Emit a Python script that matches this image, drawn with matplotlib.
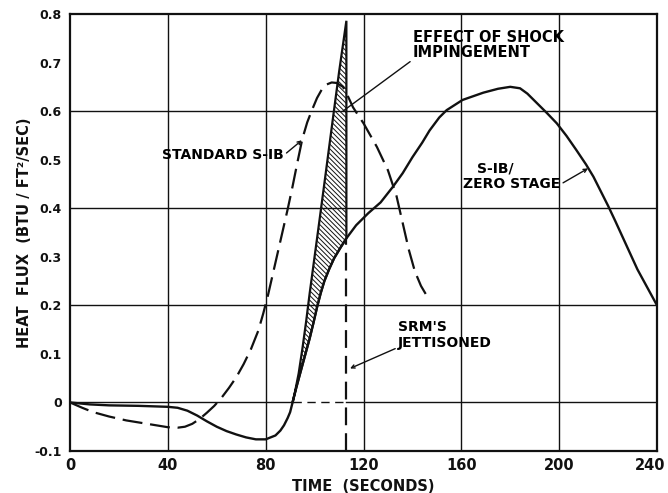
import numpy as np
import matplotlib
matplotlib.use("Agg")
import matplotlib.pyplot as plt
from matplotlib.transforms import ScaledTranslation

# S-IB / zero stage heat flux (solid)
zero_t = [0, 8, 16, 28, 40, 44, 48, 52, 56, 60, 64, 68, 72, 76, 80, 84, 86, 87.5, 89, 90, 91,
          92.5, 94, 96, 98, 99.5, 101, 102.5, 104, 106, 108, 110.5, 113, 117, 122, 127, 132,
          136, 140, 144, 147, 151, 154, 160.5, 169, 175, 180, 184, 187, 191, 195, 199, 203,
          207, 211, 214, 217, 220, 223, 226, 229, 232, 236, 240]
zero_q = [0, -0.004, -0.006, -0.007, -0.009, -0.011, -0.017, -0.027, -0.039, -0.05, -0.059,
          -0.066, -0.072, -0.076, -0.076, -0.068, -0.058, -0.047, -0.032, -0.02, 0,
          0.03, 0.058, 0.095, 0.132, 0.163, 0.196, 0.225, 0.25, 0.275, 0.297, 0.318, 0.338,
          0.365, 0.39, 0.412, 0.444, 0.472, 0.505, 0.535, 0.56, 0.587, 0.602, 0.623, 0.638,
          0.646, 0.65, 0.647, 0.636, 0.616, 0.596, 0.575, 0.549, 0.52, 0.49, 0.465, 0.435,
          0.405, 0.373, 0.34, 0.307, 0.274, 0.237, 0.2]

# standard S-IB heat flux (dashed)
std_t = [0, 5, 9.5, 16, 23, 31.5, 40, 44, 47, 50, 53, 56, 59, 62, 65, 68, 71, 74, 77, 79, 81,
         83, 85, 87, 89, 91, 93, 95, 97, 99, 101, 103, 105, 107, 109, 111.6, 113.5, 115.7, 118,
         120, 125.5, 130, 133.5, 136, 138.5, 141, 143.5, 147]
std_q = [0, -0.011, -0.02, -0.029, -0.037, -0.044, -0.051, -0.052, -0.05, -0.044, -0.034,
         -0.021, -0.007, 0.01, 0.03, 0.052, 0.079, 0.11, 0.148, 0.183, 0.222, 0.266, 0.31,
         0.354, 0.398, 0.445, 0.495, 0.543, 0.577, 0.603, 0.627, 0.645, 0.655, 0.659, 0.658,
         0.65, 0.632, 0.608, 0.59, 0.575, 0.526, 0.478, 0.425, 0.37, 0.315, 0.27, 0.24, 0.21]

# shock impingement curve (left edge of hatched region)
shock_t = [91, 92, 93.5, 95, 96.5, 98, 100, 102, 104.5, 107.5, 110, 113]
shock_q = [0, 0.022, 0.06, 0.11, 0.165, 0.225, 0.3, 0.375, 0.47, 0.585, 0.68, 0.786]

jettison_t = 113
jettison_q = 0.338   # zero-stage flux at jettison

x_ticks = [0, 40, 80, 120, 160, 200, 240]
y_ticks = [-0.1, 0, 0.1, 0.2, 0.3, 0.4, 0.5, 0.6, 0.7, 0.8]
y_labels = ['-0.1', '0', '0.1', '0.2', '0.3', '0.4', '0.5', '0.6', '0.7', '0.8']

plt.rcParams['font.family'] = 'DejaVu Sans'
plt.rcParams['font.weight'] = 'bold'
plt.rcParams['hatch.linewidth'] = 0.7

fig = plt.figure(figsize=(6.68, 4.93), dpi=100)
ax = fig.add_axes([70 / 668, 1 - 451 / 493, 587 / 668, 437 / 493])
ink = '#111111'

# grid
for gx in x_ticks[1:-1]:
    ax.axvline(gx, color=ink, lw=1.0, zorder=1)
for gy in [0.2, 0.4, 0.6]:
    ax.axhline(gy, color=ink, lw=1.0, zorder=1)
ax.plot([0, shock_t[0]], [0, 0], color=ink, lw=1.0, zorder=1)
ax.plot([shock_t[0], jettison_t], [0, 0], color=ink, lw=1.0, dashes=(6, 4), zorder=1)
ax.plot([jettison_t, 240], [0, 0], color=ink, lw=1.0, zorder=1)

# hatched effect of shock impingement
mask = [(t > shock_t[0]) and (t < jettison_t) for t in zero_t]
sol_t = [t for t, m in zip(zero_t, mask) if m]
sol_q = [q for q, m in zip(zero_q, mask) if m]
poly_t = shock_t + [jettison_t] + sol_t[::-1]
poly_q = shock_q + [jettison_q] + sol_q[::-1]
ax.fill(poly_t, poly_q, facecolor='none', edgecolor=ink, hatch='\\' * 7, lw=1.6, zorder=3)

ax.plot(zero_t, zero_q, color=ink, lw=1.7, zorder=4)
ax.plot(std_t, std_q, color=ink, lw=1.6, dashes=(9, 3.5), zorder=4)
ax.plot([jettison_t, jettison_t], [-0.1, jettison_q], color=ink, lw=1.6,
        dashes=(8, 3.6), zorder=4)

# annotations
fs = 10
ax.annotate('EFFECT OF SHOCK\nIMPINGEMENT', xy=(111.6, 0.60), xytext=(140.2, 0.737),
            fontsize=10.5, ha='left', va='center', linespacing=1.0,
            arrowprops=dict(arrowstyle='-', color=ink, lw=1.0,
                            shrinkA=0, shrinkB=0, relpos=(0, 0)))
ax.annotate('STANDARD S-IB', xy=(94.8, 0.54), xytext=(37.6, 0.509),
            fontsize=fs, ha='left', va='center',
            arrowprops=dict(arrowstyle='->', color=ink, lw=1.0, mutation_scale=6,
                            shrinkA=0, shrinkB=0, relpos=(1, 0.5)))
ax.text(166.4, 0.482, 'S-IB/', fontsize=fs, ha='left', va='center')
ax.annotate('ZERO STAGE', xy=(211.8, 0.482), xytext=(160.7, 0.449),
            fontsize=fs, ha='left', va='center',
            arrowprops=dict(arrowstyle='->', color=ink, lw=1.0, mutation_scale=6,
                            shrinkA=0, shrinkB=0, relpos=(1, 0.5)))
ax.text(134.1, 0.155, "SRM'S", fontsize=fs, ha='left', va='center')
ax.annotate('JETTISONED', xy=(114.5, 0.07), xytext=(134.1, 0.122),
            fontsize=fs, ha='left', va='center',
            arrowprops=dict(arrowstyle='->', color=ink, lw=1.0, mutation_scale=6,
                            shrinkA=0, shrinkB=0, relpos=(0, 0.2)))

ax.set_xlim(0, 240)
ax.set_ylim(-0.1, 0.8)
ax.set_xticks(x_ticks)
ax.set_xticklabels([str(t) for t in x_ticks], fontsize=10.5)
ax.set_yticks(y_ticks)
ax.set_yticklabels(y_labels, fontsize=9)
ax.tick_params(length=0, colors=ink)
ax.tick_params(axis='x', pad=5)
ax.tick_params(axis='y', pad=6)
last = ax.get_xticklabels()[-1]
last.set_transform(last.get_transform() + ScaledTranslation(-0.07, 0, fig.dpi_scale_trans))
for s in ax.spines.values():
    s.set_linewidth(1.6)
    s.set_color(ink)

ax.set_xlabel('TIME  (SECONDS)', fontsize=10.5, fontweight='bold', color=ink, va='center')
ax.xaxis.set_label_coords(0.5, -0.082)
ax.set_ylabel('HEAT  FLUX  (BTU / FT²/SEC)', fontsize=10.5, fontweight='bold', color=ink,
              va='center')
ax.yaxis.set_label_coords(-0.077, 0.5)

fig.savefig('out.png', dpi=100)
